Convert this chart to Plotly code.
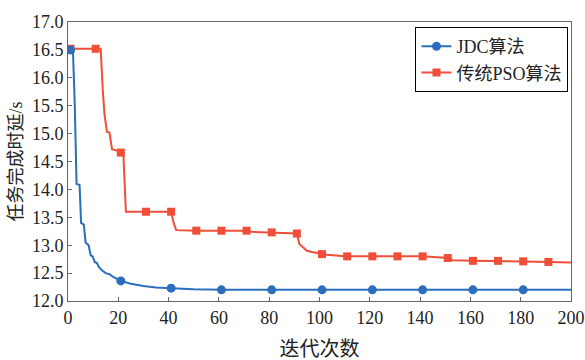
import plotly.graph_objects as go

# ---- data ----
jdc_x = [1, 2, 2.7, 3.4, 4.6, 5.2, 6.3, 7.0, 8.2, 9.0, 9.8, 10.6, 11.5, 12.4, 13.5, 15, 16.5, 18, 21,
         25, 30, 35, 41, 50, 61, 81, 101, 121, 141, 161, 181, 200]
jdc_y = [16.5, 16.45, 15.5, 14.1, 14.08, 13.4, 13.37, 13.05, 13.0, 12.82, 12.8, 12.7, 12.68, 12.6, 12.55,
         12.5, 12.48, 12.43, 12.36, 12.31, 12.27, 12.24, 12.23, 12.21, 12.2, 12.2, 12.2, 12.2, 12.2, 12.2, 12.2, 12.2]

jdc_mx = [1, 21, 41, 61, 81, 101, 121, 141, 161, 181]
jdc_my = [16.5, 12.36, 12.23, 12.2, 12.2, 12.2, 12.2, 12.2, 12.2, 12.2]

pso_x = [1, 11, 13, 13.8, 14.5, 15.5, 16.5, 17.5, 19, 21, 22, 23, 31, 41, 42, 43, 51, 61, 71, 73, 81, 91,
         92, 95, 97, 101, 103, 110, 121, 131, 141, 151, 153, 161, 171, 181, 191, 200]
pso_y = [16.52, 16.52, 16.52, 15.8, 15.35, 15.03, 15.02, 14.72, 14.7, 14.66, 14.66, 13.6, 13.6, 13.6, 13.4,
         13.27, 13.26, 13.26, 13.26, 13.24, 13.23, 13.21, 13.02, 12.9, 12.88, 12.84, 12.83, 12.8, 12.8, 12.8,
         12.8, 12.77, 12.73, 12.72, 12.72, 12.71, 12.7, 12.69]

pso_mx = [1, 11, 21, 31, 41, 51, 61, 71, 81, 91, 101, 111, 121, 131, 141, 151, 161, 171, 181, 191]
pso_my = [16.52, 16.52, 14.66, 13.6, 13.6, 13.26, 13.26, 13.26, 13.23, 13.21, 12.84, 12.8, 12.8, 12.8,
          12.8, 12.77, 12.72, 12.72, 12.71, 12.7]

x_ticks = [0, 20, 40, 60, 80, 100, 120, 140, 160, 180, 200]
y_ticks = [12.0, 12.5, 13.0, 13.5, 14.0, 14.5, 15.0, 15.5, 16.0, 16.5, 17.0]

name_jdc = "JDC算法"
name_pso = "传统PSO算法"
x_title = "迭代次数"
y_title = "任务完成时延/s"

BLUE = "#2a6ebd"
RED = "#f04e38"
FONT = "'Liberation Serif', 'Times New Roman', 'Noto Sans CJK SC', serif"

fig = go.Figure()

# red (PSO)
fig.add_trace(go.Scatter(x=pso_x, y=pso_y, mode="lines", line=dict(color=RED, width=2),
                         showlegend=False, hoverinfo="skip"))
fig.add_trace(go.Scatter(x=pso_mx, y=pso_my, mode="markers",
                         marker=dict(symbol="square", size=8, color=RED), showlegend=False))
# blue (JDC)
fig.add_trace(go.Scatter(x=jdc_x, y=jdc_y, mode="lines", line=dict(color=BLUE, width=2),
                         showlegend=False, hoverinfo="skip"))
fig.add_trace(go.Scatter(x=jdc_mx, y=jdc_my, mode="markers",
                         marker=dict(symbol="circle", size=9, color=BLUE), showlegend=False))

# legend entries
fig.add_trace(go.Scatter(x=[None], y=[None], mode="lines+markers", name=name_jdc,
                         line=dict(color=BLUE, width=2), marker=dict(symbol="circle", size=9, color=BLUE)))
fig.add_trace(go.Scatter(x=[None], y=[None], mode="lines+markers", name=name_pso,
                         line=dict(color=RED, width=2), marker=dict(symbol="square", size=8, color=RED)))

axis_common = dict(showline=True, linecolor="#666666", linewidth=1, mirror=True,
                   ticks="inside", ticklen=4, tickcolor="#666666", showgrid=False, zeroline=False,
                   ticklabeloverflow="allow",
                   tickfont=dict(family=FONT, size=18, color="#222222"))

fig.update_layout(
    width=585, height=360,
    margin=dict(l=68, r=14, t=16, b=59),
    paper_bgcolor="white", plot_bgcolor="white",
    font=dict(family=FONT, color="#222222"),
    xaxis=dict(range=[0, 200], tickvals=x_ticks, ticktext=[str(v) for v in x_ticks], automargin=False,
               title=dict(text=x_title, font=dict(family=FONT, size=20)), **axis_common),
    yaxis=dict(range=[12.0, 17.0], tickvals=y_ticks, ticktext=[f"{v:.1f}" for v in y_ticks], automargin=True,
               title=dict(text=y_title, font=dict(family=FONT, size=18), standoff=4), **axis_common),
    legend=dict(x=0.995, y=0.982, xanchor="right", yanchor="top",
                bordercolor="#000000", borderwidth=1, bgcolor="white",
                font=dict(family=FONT, size=18), tracegroupgap=0, itemwidth=30),
)

fig.write_html("out.html")
